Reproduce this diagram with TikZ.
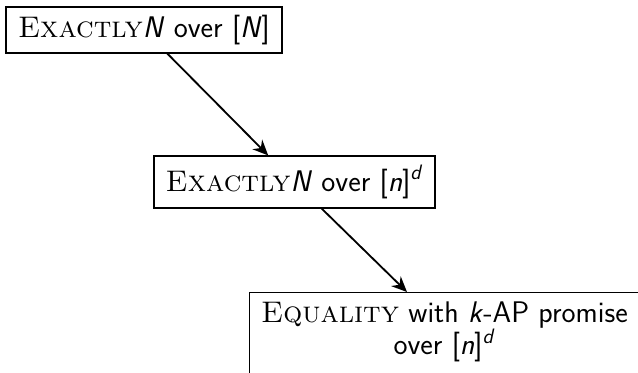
\documentclass[tikz,border=0pt]{standalone}
\usepackage{fontspec}
\usetikzlibrary{arrows.meta}
\newcommand{\vi}[1]{\textit{#1}}
\begin{document}
\begin{tikzpicture}[x=0.55pt,y=-0.55pt,
  box/.style={draw,line width=0.65pt,inner sep=0pt,font=\fontsize{16.4}{17.6}\selectfont\sffamily},
  txt/.style={inner sep=0pt,font=\fontsize{16.4}{17.6}\selectfont\sffamily,align=center},
  arr/.style={-{Stealth[length=8.5pt,width=7.5pt]},line width=1pt}]
\clip (0,0) rectangle (638,372);
\node[box,minimum width=276*0.55pt,minimum height=46*0.55pt] (b1) at (144,30)
  {\textrm{\textsc{Exactly}}\vi{N} over [\vi{N}]};
\node[box,minimum width=281*0.55pt,minimum height=52*0.55pt] (b2) at (294.5,182)
  {\textrm{\textsc{Exactly}}\vi{N} over [\vi{n}]\textsuperscript{\vi{d}}};
\node[box,minimum width=390*0.55pt,minimum height=150*0.55pt,anchor=north] (b3) at (444.5,292) {};
\node[txt,anchor=north] (b3t) at (444.5,301.5)
  {\textrm{\textsc{Equality}} with \vi{k}-AP promise\\ over [\vi{n}]\textsuperscript{\vi{d}}};
\coordinate (t3) at (407,292);
\draw[arr] (b1) -- (b2);
\draw[arr] (b2) -- (t3);
\end{tikzpicture}
\end{document}
